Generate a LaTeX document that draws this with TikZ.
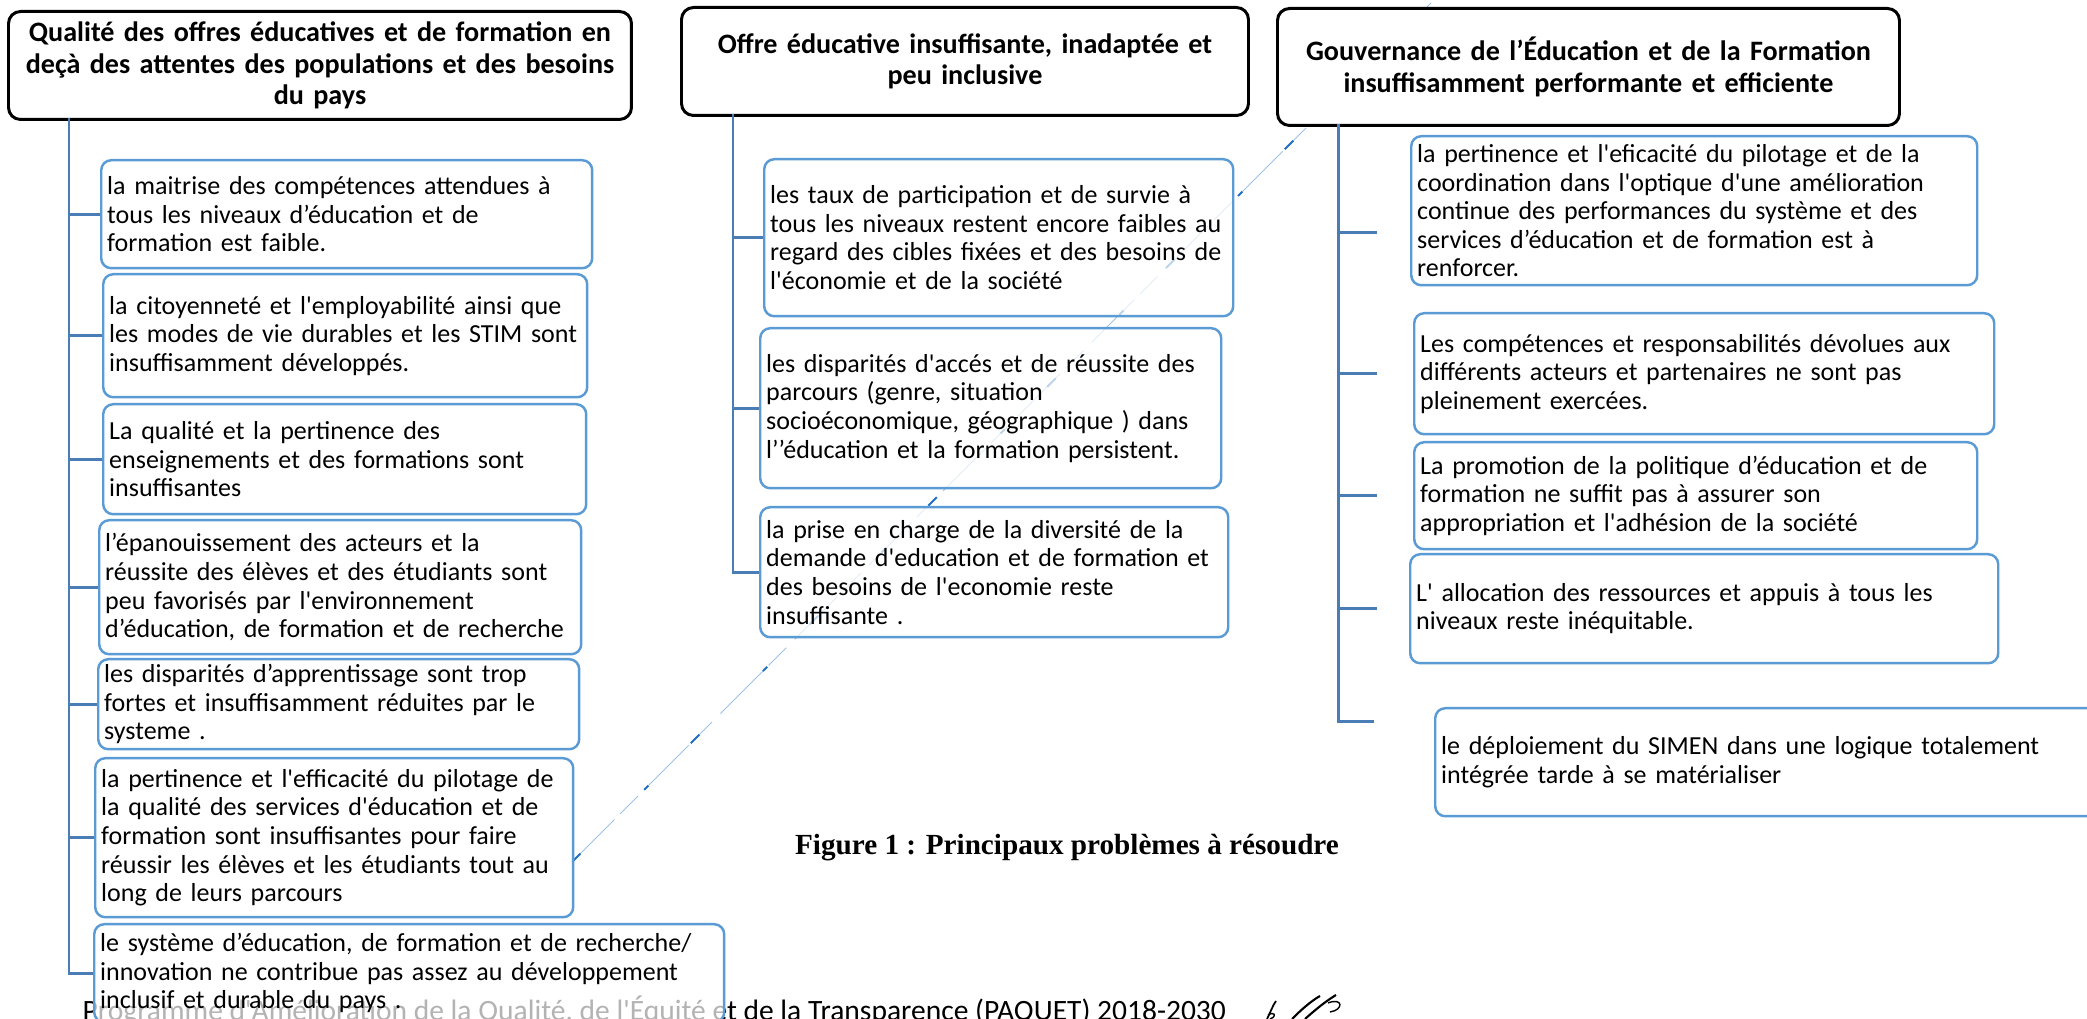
\documentclass[tikz,border=0pt]{standalone}
\usepackage{fontspec}
\setmainfont{Carlito}[Ligatures=TeXOff]
\newfontfamily\capfont{Liberation Serif}
\usetikzlibrary{calc}
\definecolor{itemblue}{HTML}{5B9BD5}
\definecolor{linkblue}{HTML}{4A7DB5}
\definecolor{diagblue}{HTML}{1F6FC5}

\begin{document}
\begin{tikzpicture}[x=0.1mm,y=-0.1mm,
  head/.style={draw=black,line width=0.85pt,rounded corners=1.2mm,fill=white,anchor=north west,
    align=center,inner sep=0pt,font=\fontsize{8}{9}\selectfont\bfseries},
  item/.style={draw=itemblue,line width=0.7pt,rounded corners=1mm,fill=white,fill opacity=0.7,
    text opacity=1,anchor=north west,align=left,inner xsep=0.6mm,inner ysep=0pt,
    font=\fontsize{7.4}{8.15}\selectfont},
  link/.style={draw=linkblue,line width=0.85pt},
  diag/.style={draw=itemblue!60,line width=0.3pt,dash pattern=on 6mm off 0.8mm on 2.5mm off 1.2mm}]
\useasboundingbox (0,0) rectangle (2087,1019);
\clip (0,0) rectangle (2087,1019);
\fill[white] (0,0) rectangle (2087,1019);

\coordinate (dlo) at (572,862);
\coordinate (dhi) at (1434,0);
\draw[diag] (dlo) -- (dhi);
\draw[diagblue,line width=0.6pt,dash pattern=on 1.2mm off 9mm on 0.6mm off 6mm] (dlo) -- (dhi);

\node[anchor=base west,inner sep=0pt,font=\fontsize{8.4}{10}\selectfont] (foot) at (82,1021)
  {Programme d'Amélioration de la Qualité, de l'Équité et de la Transparence (PAQUET) 2018-2030};

\draw[line width=0.5pt] (1267,1019) .. controls (1271,1011) and (1273,1005) .. (1276,1001);
\draw[line width=0.4pt] (1268,1015) .. controls (1274,1011) and (1278,1016) .. (1270,1019);
\draw[line width=0.6pt] (1292,1019) .. controls (1301,1010) and (1311,1001) .. (1320,996);
\draw[line width=0.6pt] (1305,1019) .. controls (1315,1010) and (1326,1001) .. (1336,995);
\draw[line width=0.4pt] (1328,1003) .. controls (1343,997) and (1344,1010) .. (1330,1012);

\node[head,text width=62.3mm,minimum height=10.8mm] (hA) at (7,10)
  {Qualité des offres éducatives et de formation en\\deçà des attentes des populations et des besoins\\du pays};
\node[head,text width=56.7mm,minimum height=10.8mm] (hB) at (680,6)
  {Offre éducative insuffisante, inadaptée et\\peu inclusive};
\node[head,text width=62.2mm,minimum height=11.7mm] (hC) at (1276,7)
  {Gouvernance de l’Éducation et de la Formation\\insuffisamment performante et efficiente};

\node[item,text width=47.9mm,minimum height=10.8mm] (a1) at (100,159)
  {la maitrise des compétences attendues à\\tous les niveaux d’éducation et de\\formation est faible.};
\node[item,text width=47.2mm,minimum height=12.3mm] (a2) at (102,273)
  {la citoyenneté et l'employabilité ainsi que\\les modes de vie durables et les STIM sont\\insuffisamment développés.};
\node[item,text width=47.1mm,minimum height=11mm] (a3) at (102,403)
  {La qualité et la pertinence des\\enseignements et des formations sont\\insuffisantes};
\node[item,text width=47mm,minimum height=13.4mm] (a4) at (98,519)
  {l’épanouissement des acteurs et la\\réussite des élèves et des étudiants sont\\peu favorisés par l'environnement\\d’éducation, de formation et de recherche};
\node[item,text width=46.9mm,minimum height=9mm] (a5) at (97,658)
  {les disparités d’apprentissage sont trop\\fortes et insuffisamment réduites par le\\systeme .};
\node[item,text width=46.6mm,minimum height=15.9mm] (a6) at (94,757)
  {la pertinence et l'efficacité du pilotage de\\la qualité des services d'éducation et de\\formation sont insuffisantes pour faire\\réussir les élèves et les étudiants tout au\\long de leurs parcours};
\node[item,text width=61.8mm,minimum height=9.8mm] (a7) at (93,923)
  {le système d’éducation, de formation et de recherche/\\innovation ne contribue pas assez au développement\\inclusif et durable du pays .};

\node[item,text width=45.7mm,minimum height=15.7mm] (b1) at (763,158)
  {les taux de participation et de survie à\\tous les niveaux restent encore faibles au\\regard des cibles fixées et des besoins de\\l'économie et de la société};
\node[item,text width=44.9mm,minimum height=16mm] (b2) at (759,327)
  {les disparités d'accés et de réussite des\\parcours (genre, situation\\socioéconomique, géographique ) dans\\l’’éducation et la formation persistent.};
\node[item,text width=45.6mm,minimum height=13mm] (b3) at (759,506)
  {la prise en charge de la diversité de la\\demande d'education et de formation et\\des besoins de l'economie reste\\insuffisante .};

\node[item,text width=55.4mm,minimum height=14.9mm] (c1) at (1410,135)
  {la pertinence et l'eficacité du pilotage et de la\\coordination dans l'optique d'une amélioration\\continue des performances du système et des\\services d’éducation et de formation est à\\renforcer.};
\node[item,text width=56.8mm,minimum height=12.1mm] (c2) at (1413,312)
  {Les compétences et responsabilités dévolues aux\\différents acteurs et partenaires ne sont pas\\pleinement exercées.};
\node[item,text width=55.1mm,minimum height=10.7mm] (c3) at (1413,441)
  {La promotion de la politique d’éducation et de\\formation ne suffit pas à assurer son\\appropriation et l'adhésion de la société};
\node[item,text width=57.6mm,minimum height=10.9mm] (c4) at (1409,553)
  {L' allocation des ressources et appuis à tous les\\niveaux reste inéquitable.};
\node[item,text width=68.8mm,minimum height=10.8mm] (c5) at (1434,707)
  {le déploiement du SIMEN dans une logique totalement\\intégrée tarde à se matérialiser};

\coordinate (tA) at (69,118);
\draw[link] (tA) |- (a7.west);
\foreach \n in {a1,a2,a3,a4,a5,a6} \draw[link] (tA |- \n.west) -- (\n.west);

\coordinate (tB) at (733,114);
\draw[link] (tB) |- (b3.west);
\foreach \n in {b1,b2} \draw[link] (tB |- \n.west) -- (\n.west);

\coordinate (tC) at (1338,124);
\coordinate (e1) at ([xshift=-3.3mm,yshift=-2.15mm]c1.west);
\coordinate (e2) at ([xshift=-3.6mm]c2.west);
\coordinate (e3) at ([xshift=-3.6mm]c3.west);
\coordinate (e4) at ([xshift=-3.2mm]c4.west);
\coordinate (e5) at ([xshift=-6mm,yshift=4.1mm]c5.west);
\draw[link] (tC) |- (e5);
\foreach \n in {e1,e2,e3,e4} \draw[link] (tC |- \n) -- (\n);

\node[font=\fontsize{8.3}{10}\selectfont\capfont\bfseries] (cap) at (1067,848)
  {Figure 1 : Principaux problèmes à résoudre};
\end{tikzpicture}
\end{document}
